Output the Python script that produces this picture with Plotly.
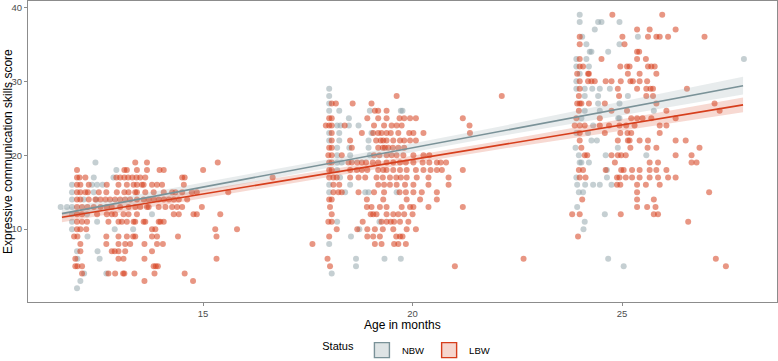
import plotly.graph_objects as go

# ---------------- data ----------------
# rows: (score, [ages in months]) for each visit cluster
nbw_12m = [
    (19, [12.43]), (18, [12.93]), (17, [12.39, 12.86]),
    (16, [11.87, 12.35, 12.47, 12.6]), (15, [11.87, 12.39]),
    (14, [11.87, 12.15, 12.45]), (13, [11.6, 11.75, 11.87]),
    (12, [11.87, 12.23, 13.78]), (11, [11.87, 12.47]),
    (10, [11.87, 12.89, 13.33]), (9, [12.24]), (7, [11.99, 12.48]),
    (6, [12.0, 12.53]), (4, [12.16, 12.69]), (3, [12.07]), (2, [11.99]),
]
lbw_12m = [
    (19, [13.38, 13.66, 15.35]),
    (18, [11.99, 13.12, 13.18, 13.42, 13.66, 13.96, 14.06, 15.0]),
    (17, [11.99, 12.05, 12.19, 12.93, 13.02, 13.12, 13.21, 13.31, 13.41, 13.5, 13.62, 14.5, 14.56, 16.66]),
    (16, [11.99, 12.07, 12.27, 12.7, 12.98, 13.18, 13.34, 13.42, 13.54, 13.58, 13.78, 13.9, 14.02, 14.54]),
    (15, [11.99, 12.07, 12.19, 12.25, 12.51, 12.69, 12.94, 13.12, 13.22, 13.38, 13.42, 13.62, 13.82, 14.06, 14.26, 14.34, 14.5, 14.73, 14.85, 15.6]),
    (14, [11.99, 12.07, 12.27, 12.43, 12.55, 12.67, 12.78, 12.9, 13.02, 13.14, 13.26, 13.42, 13.58, 13.7, 13.82, 13.94, 14.06, 14.18, 14.3, 14.42, 14.62]),
    (13, [11.99, 12.11, 12.24, 12.39, 12.55, 12.7, 12.82, 13.02, 13.22, 13.38, 13.5, 13.66, 13.7, 13.94, 14.1, 14.26, 14.38, 14.5, 14.97]),
    (12, [11.99, 12.11, 12.47, 12.7, 12.82, 12.9, 13.1, 13.22, 13.42, 14.3, 14.42, 14.77, 14.85, 15.41]),
    (11, [11.99, 12.11, 12.23, 12.74, 12.98, 13.06, 13.18, 13.34, 13.38, 13.58, 13.62, 13.94, 13.98, 14.06]),
    (10, [11.99, 12.07, 12.21, 13.78, 13.86, 15.29, 15.81]),
    (9, [11.92, 12.0, 12.69, 12.98, 13.18, 13.33, 13.38, 13.78, 13.9, 14.4, 15.32]),
    (8, [12.07, 12.69, 12.98, 13.14, 13.26, 13.6, 13.9, 14.04]),
    (7, [12.07, 12.82, 12.89, 12.98, 13.14, 13.78]),
    (6, [11.95, 12.98, 13.1, 13.6, 15.32]),
    (5, [11.95, 12.0, 12.11, 13.82, 13.87, 13.92]),
    (4, [12.11, 12.74, 12.9, 13.09, 13.12, 13.36, 13.84, 14.56]),
    (3, [13.6, 14.76]),
]
nbw_18m = [
    (29, [18.01]), (28, [18.01]), (27, [18.01]),
    (26, [18.01, 18.25, 18.98, 19.72, 19.76]), (25, [18.48]),
    (24, [18.2, 18.28, 18.48, 18.71]), (23, [18.01, 18.25, 19.02]),
    (22, [18.01, 18.25, 18.95]), (21, [18.2, 18.49, 18.95]),
    (20, [18.2, 18.51, 18.98]), (19, [18.2, 18.31]), (18, [18.2]),
    (17, [18.27]), (16, [18.01, 18.51]), (15, [18.01, 18.39, 18.87, 18.95, 19.62]),
    (11, [18.2, 19.21]), (10, [18.73]), (9, [18.53]), (8, [18.01]),
    (6, [18.65, 19.33, 19.72]), (5, [18.65]), (4, [18.07]),
]
lbw_18m = [
    (28, [19.62, 22.13]),
    (27, [18.07, 18.17, 18.57, 19.02]),
    (26, [19.1, 19.18, 19.38]),
    (25, [18.01, 18.07, 18.92, 19.18, 19.38, 19.69, 19.8, 19.94, 20.08, 21.2]),
    (24, [17.93, 18.01, 18.07, 18.38, 19.08, 19.32, 19.5, 19.62, 19.74, 21.36]),
    (23, [18.07, 18.79, 19.06, 19.18, 19.26, 19.38, 19.48, 19.66, 19.92, 20.02, 20.26, 21.37]),
    (22, [18.07, 18.51, 19.13, 19.24, 19.3, 19.38, 19.54, 19.7, 19.8, 19.94, 20.08]),
    (21, [18.01, 18.07, 18.55, 19.18, 19.29, 19.34, 19.42, 19.53, 19.66, 19.8]),
    (20, [17.99, 18.07, 18.31, 19.08, 19.21, 19.38, 19.5, 19.62, 19.78, 20.02, 20.26, 20.4]),
    (19, [18.01, 18.07, 18.47, 18.55, 18.68, 18.79, 18.89, 19.05, 19.18, 19.38, 19.54, 19.7, 19.84, 20.02, 20.24, 20.4, 20.58, 20.67, 20.8]),
    (18, [18.01, 18.07, 18.51, 18.67, 18.79, 18.92, 19.18, 19.3, 19.38, 19.54, 19.7, 19.86, 20.08, 20.26, 20.43, 20.58, 20.7, 21.2]),
    (17, [18.01, 18.11, 18.19, 18.51, 18.71, 18.87, 19.14, 19.29, 19.46, 19.61, 19.72, 19.86, 20.1, 20.38, 20.86]),
    (16, [18.11, 18.25, 19.18, 19.32, 19.46, 19.62, 19.82, 20.02, 20.38, 20.86]),
    (15, [18.11, 18.23, 18.31, 18.71, 19.08, 19.32, 19.69, 19.84, 20.02, 20.22, 20.58]),
    (14, [18.01, 18.07, 18.91, 19.3, 19.86, 20.18, 20.58]),
    (13, [18.03, 18.91, 19.02, 19.22, 19.38, 19.74, 19.94, 20.02, 20.38, 21.2]),
    (12, [18.07, 19.0, 19.06, 19.14, 19.38, 19.54, 19.66, 19.8, 20.0]),
    (11, [17.99, 18.07, 18.81, 19.26, 19.38, 19.48, 19.56, 19.7, 19.9]),
    (10, [18.19, 18.68, 18.92, 19.1, 19.29, 19.54, 19.86, 20.08]),
    (9, [18.01, 18.92, 19.06, 19.22, 19.61, 19.7, 19.76]),
    (8, [17.61, 19.1, 19.26, 19.56, 19.66, 19.84]),
    (6, [17.97, 22.65]),
    (5, [18.03, 21.01]),
]
nbw_24m = [
    (39, [23.99]), (38, [23.99, 24.43, 24.51, 24.94]), (37, [24.35]),
    (36, [24.05, 25.38]), (35, [24.15, 24.94]), (34, [24.23, 24.27, 24.67]),
    (33, [23.91, 24.15, 27.91]), (32, [23.91, 24.21]), (31, [23.99]),
    (30, [23.91]), (29, [23.91, 24.11, 24.29, 24.47, 24.71]),
    (28, [24.11, 24.43, 25.14]), (27, [24.43, 24.94]), (26, [24.11, 24.47, 25.76]),
    (25, [24.03, 24.91, 24.94]), (24, [24.31]), (23, [23.91, 24.19]),
    (22, [24.27, 24.4]), (21, [23.89, 24.9]), (20, [23.97, 24.61, 25.58]),
    (19, [23.99, 24.03, 24.21]), (18, [24.64]), (17, [23.91, 24.64]),
    (16, [23.93, 24.12, 24.31, 24.47, 24.75]), (15, [23.97, 24.07]),
    (13, [23.93]), (12, [24.59]), (11, [24.11]), (10, [24.08]),
    (6, [24.67]), (5, [25.04]),
]
lbw_24m = [
    (39, [24.77, 25.96]),
    (37, [25.36, 25.66, 26.28]),
    (36, [23.99, 25.01, 25.62, 25.82, 25.9, 26.1, 26.97]),
    (35, [23.99, 25.06]),
    (34, [25.36, 25.41]),
    (33, [23.99, 24.51, 25.36, 25.57]),
    (32, [23.99, 24.07, 24.96, 25.12, 25.18, 25.62, 25.7, 25.78]),
    (31, [23.93, 24.19, 24.21, 25.14, 25.42, 25.82]),
    (30, [23.99, 24.19, 24.27, 24.35, 24.61, 24.75, 24.97, 25.2, 25.26, 25.42, 25.6]),
    (29, [23.99, 24.9, 25.36, 25.58, 25.68, 25.74, 26.55]),
    (28, [23.97, 24.93, 25.58, 25.74]),
    (27, [23.93, 23.99, 24.03, 24.21, 24.59, 25.82, 27.21]),
    (26, [23.97, 24.75, 25.12, 26.06, 27.33]),
    (25, [23.91, 24.47, 25.22, 25.36, 25.49, 25.7, 26.28]),
    (24, [23.87, 23.99, 24.11, 24.47, 24.69, 24.94, 25.1, 25.3, 25.9, 26.06]),
    (23, [23.99, 24.59, 24.96, 25.13, 25.22, 25.9]),
    (22, [23.99, 24.9, 25.14, 25.18, 25.42, 25.62, 26.28, 26.52]),
    (21, [24.03, 25.2, 25.61, 25.82, 26.85]),
    (20, [24.11, 24.17, 24.75, 24.9, 24.98, 25.09, 26.28, 26.66]),
    (19, [24.83, 25.66, 25.86, 26.66, 26.78]),
    (18, [23.97, 24.07, 24.61, 24.98, 25.04, 25.24, 25.42, 25.66, 25.82, 26.06]),
    (17, [23.99, 24.13, 24.88, 24.94, 25.09, 25.24, 25.42, 25.66, 25.86, 26.1, 26.28]),
    (16, [24.88, 24.96, 25.36, 25.57, 25.9]),
    (15, [25.36, 27.08]),
    (14, [24.05, 25.36, 25.76]),
    (13, [25.36, 25.6, 25.8]),
    (12, [23.81, 23.99, 24.97, 25.76, 25.86]),
    (11, [26.58]),
    (9, [23.95]),
    (6, [27.24]),
    (5, [27.48]),
]

# fitted regression lines and 95% confidence bands
fit_age = [11.63, 27.89]
nbw_fit = [12.1, 29.4]
lbw_fit = [11.6, 26.8]
band_age = [11.63, 15, 18.5, 22, 25, 27.89]
nbw_band_hi = [12.8, 16.29, 19.96, 23.78, 27.23, 30.6]
nbw_band_lo = [11.4, 15.09, 18.86, 22.48, 25.43, 28.2]
lbw_band_hi = [12.25, 15.3, 18.52, 21.85, 24.9, 27.8]
lbw_band_lo = [10.95, 14.2, 17.52, 20.75, 23.3, 25.8]

x_ticks = [15, 20, 25]
y_ticks = [10, 20, 30, 40]
groups = ["NBW", "LBW"]

# ---------------- styling ----------------
FONT = "Liberation Sans, Arial, Helvetica, sans-serif"
NBW_PT = "rgba(140,160,165,0.5)"
LBW_PT = "rgba(214,64,30,0.55)"
NBW_LINE = "rgb(122,146,152)"
LBW_LINE = "rgb(214,62,28)"
NBW_FILL = "rgba(140,160,165,0.2)"
LBW_FILL = "rgba(214,64,30,0.2)"
AXIS_COL = "#8c8c8c"


def flatten(*clusters):
    xs, ys = [], []
    for cl in clusters:
        for score, ages in cl:
            for a in ages:
                xs.append(a)
                ys.append(score)
    return xs, ys


nbw_x, nbw_y = flatten(nbw_12m, nbw_18m, nbw_24m)
lbw_x, lbw_y = flatten(lbw_12m, lbw_18m, lbw_24m)

fig = go.Figure()

fig.add_trace(go.Scatter(x=nbw_x, y=nbw_y, mode="markers", showlegend=False,
                         marker=dict(size=6, color=NBW_PT, line=dict(width=0))))
fig.add_trace(go.Scatter(x=lbw_x, y=lbw_y, mode="markers", showlegend=False,
                         marker=dict(size=6, color=LBW_PT, line=dict(width=0))))

for hi, lo, fill in [(nbw_band_hi, nbw_band_lo, NBW_FILL), (lbw_band_hi, lbw_band_lo, LBW_FILL)]:
    fig.add_trace(go.Scatter(x=band_age, y=lo, mode="lines", line=dict(width=0),
                             showlegend=False, hoverinfo="skip"))
    fig.add_trace(go.Scatter(x=band_age, y=hi, mode="lines", line=dict(width=0),
                             fill="tonexty", fillcolor=fill, showlegend=False,
                             hoverinfo="skip"))

fig.add_trace(go.Scatter(x=fit_age, y=nbw_fit, mode="lines", showlegend=False,
                         line=dict(color=NBW_LINE, width=1.6)))
fig.add_trace(go.Scatter(x=fit_age, y=lbw_fit, mode="lines", showlegend=False,
                         line=dict(color=LBW_LINE, width=1.6)))

# legend entries (square keys like ggplot)
for name, lc, fc in [(groups[0], NBW_LINE, "rgb(222,228,229)"),
                     (groups[1], LBW_LINE, "rgb(246,214,206)")]:
    fig.add_trace(go.Scatter(x=[None], y=[None], mode="markers", name=name,
                             marker=dict(symbol="square", size=15, color=fc,
                                         line=dict(color=lc, width=1.4))))

axis_common = dict(showline=True, mirror=True, linecolor=AXIS_COL, linewidth=1,
                   showgrid=False, zeroline=False, ticks="outside", ticklen=3,
                   tickcolor=AXIS_COL, automargin=False,
                   tickfont=dict(family=FONT, size=9.5, color="#4d4d4d"))

fig.update_layout(
    width=778, height=361,
    margin=dict(l=28, r=1, t=1, b=59, autoexpand=False),
    plot_bgcolor="white", paper_bgcolor="white",
    font=dict(family=FONT, color="black"),
    xaxis=dict(range=[10.82, 28.7], tickvals=x_ticks, ticktext=[str(v) for v in x_ticks],
               **axis_common),
    yaxis=dict(range=[0.15, 40.85], tickvals=y_ticks, ticktext=[str(v) for v in y_ticks],
               **axis_common),
    legend=dict(orientation="h", x=0.507, xanchor="center", y=-0.16, yanchor="middle",
                traceorder="normal",
                title=dict(text="Status", font=dict(family=FONT, size=11, color="black")),
                font=dict(family=FONT, size=9.5, color="black"),
                itemwidth=30, tracegroupgap=0),
    annotations=[
        dict(text="Age in months", xref="paper", yref="paper", x=0.5, y=-0.076,
             xanchor="center", yanchor="middle", showarrow=False,
             font=dict(family=FONT, size=12, color="black")),
        dict(text="Expressive communication skills score", xref="paper", yref="paper",
             x=-0.0274, y=0.5, xanchor="center", yanchor="middle", textangle=-90,
             showarrow=False, font=dict(family=FONT, size=12, color="black")),
    ],
)

fig.write_html("out.html", config={"displayModeBar": False},
               post_script="document.body.style.margin='0';")
